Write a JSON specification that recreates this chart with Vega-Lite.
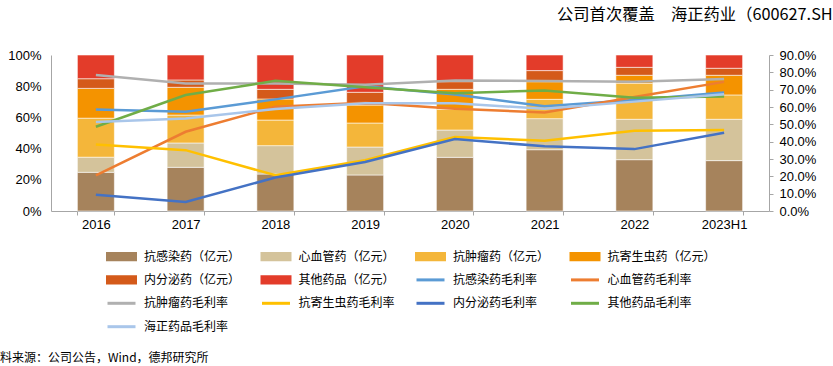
{
  "$schema": "https://vega.github.io/schema/vega-lite/v6.json",
  "width": 718,
  "height": 156,
  "autosize": {"type": "none"},
  "padding": {"left": 51, "top": 55, "right": 64, "bottom": 155},
  "background": "white",
  "title": {"text": "公司首次覆盖　海正药业（600627.SH）", "anchor": "end", "frame": "group", "dx": 80, "offset": 26, "font": "Noto Sans CJK SC", "fontSize": 16.3, "fontWeight": "normal", "color": "#000000"},
  "datasets": {
    "share": [
      {"year": "2016", "series": "抗感染药（亿元）", "seriesNo": 1, "value": 0.248},
      {"year": "2016", "series": "心血管药（亿元）", "seriesNo": 2, "value": 0.097},
      {"year": "2016", "series": "抗肿瘤药（亿元）", "seriesNo": 3, "value": 0.250},
      {"year": "2016", "series": "抗寄生虫药（亿元）", "seriesNo": 4, "value": 0.191},
      {"year": "2016", "series": "内分泌药（亿元）", "seriesNo": 5, "value": 0.062},
      {"year": "2016", "series": "其他药品（亿元）", "seriesNo": 6, "value": 0.152},
      {"year": "2017", "series": "抗感染药（亿元）", "seriesNo": 1, "value": 0.280},
      {"year": "2017", "series": "心血管药（亿元）", "seriesNo": 2, "value": 0.156},
      {"year": "2017", "series": "抗肿瘤药（亿元）", "seriesNo": 3, "value": 0.179},
      {"year": "2017", "series": "抗寄生虫药（亿元）", "seriesNo": 4, "value": 0.178},
      {"year": "2017", "series": "内分泌药（亿元）", "seriesNo": 5, "value": 0.047},
      {"year": "2017", "series": "其他药品（亿元）", "seriesNo": 6, "value": 0.160},
      {"year": "2018", "series": "抗感染药（亿元）", "seriesNo": 1, "value": 0.237},
      {"year": "2018", "series": "心血管药（亿元）", "seriesNo": 2, "value": 0.182},
      {"year": "2018", "series": "抗肿瘤药（亿元）", "seriesNo": 3, "value": 0.164},
      {"year": "2018", "series": "抗寄生虫药（亿元）", "seriesNo": 4, "value": 0.135},
      {"year": "2018", "series": "内分泌药（亿元）", "seriesNo": 5, "value": 0.062},
      {"year": "2018", "series": "其他药品（亿元）", "seriesNo": 6, "value": 0.220},
      {"year": "2019", "series": "抗感染药（亿元）", "seriesNo": 1, "value": 0.231},
      {"year": "2019", "series": "心血管药（亿元）", "seriesNo": 2, "value": 0.179},
      {"year": "2019", "series": "抗肿瘤药（亿元）", "seriesNo": 3, "value": 0.154},
      {"year": "2019", "series": "抗寄生虫药（亿元）", "seriesNo": 4, "value": 0.115},
      {"year": "2019", "series": "内分泌药（亿元）", "seriesNo": 5, "value": 0.082},
      {"year": "2019", "series": "其他药品（亿元）", "seriesNo": 6, "value": 0.239},
      {"year": "2020", "series": "抗感染药（亿元）", "seriesNo": 1, "value": 0.344},
      {"year": "2020", "series": "心血管药（亿元）", "seriesNo": 2, "value": 0.175},
      {"year": "2020", "series": "抗肿瘤药（亿元）", "seriesNo": 3, "value": 0.133},
      {"year": "2020", "series": "抗寄生虫药（亿元）", "seriesNo": 4, "value": 0.128},
      {"year": "2020", "series": "内分泌药（亿元）", "seriesNo": 5, "value": 0.049},
      {"year": "2020", "series": "其他药品（亿元）", "seriesNo": 6, "value": 0.171},
      {"year": "2021", "series": "抗感染药（亿元）", "seriesNo": 1, "value": 0.393},
      {"year": "2021", "series": "心血管药（亿元）", "seriesNo": 2, "value": 0.199},
      {"year": "2021", "series": "抗肿瘤药（亿元）", "seriesNo": 3, "value": 0.124},
      {"year": "2021", "series": "抗寄生虫药（亿元）", "seriesNo": 4, "value": 0.113},
      {"year": "2021", "series": "内分泌药（亿元）", "seriesNo": 5, "value": 0.071},
      {"year": "2021", "series": "其他药品（亿元）", "seriesNo": 6, "value": 0.100},
      {"year": "2022", "series": "抗感染药（亿元）", "seriesNo": 1, "value": 0.329},
      {"year": "2022", "series": "心血管药（亿元）", "seriesNo": 2, "value": 0.259},
      {"year": "2022", "series": "抗肿瘤药（亿元）", "seriesNo": 3, "value": 0.230},
      {"year": "2022", "series": "抗寄生虫药（亿元）", "seriesNo": 4, "value": 0.052},
      {"year": "2022", "series": "内分泌药（亿元）", "seriesNo": 5, "value": 0.051},
      {"year": "2022", "series": "其他药品（亿元）", "seriesNo": 6, "value": 0.079},
      {"year": "2023H1", "series": "抗感染药（亿元）", "seriesNo": 1, "value": 0.323},
      {"year": "2023H1", "series": "心血管药（亿元）", "seriesNo": 2, "value": 0.265},
      {"year": "2023H1", "series": "抗肿瘤药（亿元）", "seriesNo": 3, "value": 0.156},
      {"year": "2023H1", "series": "抗寄生虫药（亿元）", "seriesNo": 4, "value": 0.126},
      {"year": "2023H1", "series": "内分泌药（亿元）", "seriesNo": 5, "value": 0.045},
      {"year": "2023H1", "series": "其他药品（亿元）", "seriesNo": 6, "value": 0.085}
    ],
    "margin": [
      {"year": "2016", "series": "抗感染药毛利率", "value": 0.586},
      {"year": "2017", "series": "抗感染药毛利率", "value": 0.572},
      {"year": "2018", "series": "抗感染药毛利率", "value": 0.644},
      {"year": "2019", "series": "抗感染药毛利率", "value": 0.720},
      {"year": "2020", "series": "抗感染药毛利率", "value": 0.672},
      {"year": "2021", "series": "抗感染药毛利率", "value": 0.605},
      {"year": "2022", "series": "抗感染药毛利率", "value": 0.640},
      {"year": "2023H1", "series": "抗感染药毛利率", "value": 0.683},
      {"year": "2016", "series": "心血管药毛利率", "value": 0.206},
      {"year": "2017", "series": "心血管药毛利率", "value": 0.457},
      {"year": "2018", "series": "心血管药毛利率", "value": 0.601},
      {"year": "2019", "series": "心血管药毛利率", "value": 0.624},
      {"year": "2020", "series": "心血管药毛利率", "value": 0.590},
      {"year": "2021", "series": "心血管药毛利率", "value": 0.568},
      {"year": "2022", "series": "心血管药毛利率", "value": 0.658},
      {"year": "2023H1", "series": "心血管药毛利率", "value": 0.745},
      {"year": "2016", "series": "抗肿瘤药毛利率", "value": 0.784},
      {"year": "2017", "series": "抗肿瘤药毛利率", "value": 0.736},
      {"year": "2018", "series": "抗肿瘤药毛利率", "value": 0.736},
      {"year": "2019", "series": "抗肿瘤药毛利率", "value": 0.728},
      {"year": "2020", "series": "抗肿瘤药毛利率", "value": 0.753},
      {"year": "2021", "series": "抗肿瘤药毛利率", "value": 0.750},
      {"year": "2022", "series": "抗肿瘤药毛利率", "value": 0.746},
      {"year": "2023H1", "series": "抗肿瘤药毛利率", "value": 0.762},
      {"year": "2016", "series": "抗寄生虫药毛利率", "value": 0.383},
      {"year": "2017", "series": "抗寄生虫药毛利率", "value": 0.351},
      {"year": "2018", "series": "抗寄生虫药毛利率", "value": 0.206},
      {"year": "2019", "series": "抗寄生虫药毛利率", "value": 0.293},
      {"year": "2020", "series": "抗寄生虫药毛利率", "value": 0.427},
      {"year": "2021", "series": "抗寄生虫药毛利率", "value": 0.405},
      {"year": "2022", "series": "抗寄生虫药毛利率", "value": 0.463},
      {"year": "2023H1", "series": "抗寄生虫药毛利率", "value": 0.467},
      {"year": "2016", "series": "内分泌药毛利率", "value": 0.094},
      {"year": "2017", "series": "内分泌药毛利率", "value": 0.052},
      {"year": "2018", "series": "内分泌药毛利率", "value": 0.193},
      {"year": "2019", "series": "内分泌药毛利率", "value": 0.283},
      {"year": "2020", "series": "内分泌药毛利率", "value": 0.415},
      {"year": "2021", "series": "内分泌药毛利率", "value": 0.373},
      {"year": "2022", "series": "内分泌药毛利率", "value": 0.357},
      {"year": "2023H1", "series": "内分泌药毛利率", "value": 0.452},
      {"year": "2016", "series": "其他药品毛利率", "value": 0.486},
      {"year": "2017", "series": "其他药品毛利率", "value": 0.669},
      {"year": "2018", "series": "其他药品毛利率", "value": 0.751},
      {"year": "2019", "series": "其他药品毛利率", "value": 0.714},
      {"year": "2020", "series": "其他药品毛利率", "value": 0.680},
      {"year": "2021", "series": "其他药品毛利率", "value": 0.695},
      {"year": "2022", "series": "其他药品毛利率", "value": 0.654},
      {"year": "2023H1", "series": "其他药品毛利率", "value": 0.660},
      {"year": "2016", "series": "海正药品毛利率", "value": 0.514},
      {"year": "2017", "series": "海正药品毛利率", "value": 0.534},
      {"year": "2018", "series": "海正药品毛利率", "value": 0.588},
      {"year": "2019", "series": "海正药品毛利率", "value": 0.621},
      {"year": "2020", "series": "海正药品毛利率", "value": 0.621},
      {"year": "2021", "series": "海正药品毛利率", "value": 0.590},
      {"year": "2022", "series": "海正药品毛利率", "value": 0.631},
      {"year": "2023H1", "series": "海正药品毛利率", "value": 0.673}
    ]
  },
  "layer": [
    {
      "data": {"name": "share"},
      "mark": {"type": "bar", "stroke": "#ffffff", "strokeWidth": 0.8, "strokeOpacity": 0.7},
      "encoding": {
        "x": {"field": "year", "type": "nominal", "sort": null, "scale": {"paddingInner": 0.588, "paddingOuter": 0.294}, "axis": {"tickBand": "extent", "labelAngle": 0, "ticks": true, "tickSize": 4, "labelPadding": 3, "title": null}},
        "y": {"field": "value", "type": "quantitative", "stack": "zero", "scale": {"domain": [0, 1]}, "axis": {"orient": "left", "values": [0, 0.2, 0.4, 0.6, 0.8, 1], "format": ".0%", "ticks": false, "labelPadding": 10, "title": null}},
        "order": {"field": "seriesNo", "type": "quantitative", "sort": "ascending"},
        "color": {
          "field": "series", "type": "nominal",
          "sort": ["抗感染药（亿元）", "心血管药（亿元）", "抗肿瘤药（亿元）", "抗寄生虫药（亿元）", "内分泌药（亿元）", "其他药品（亿元）", "抗感染药毛利率", "心血管药毛利率", "抗肿瘤药毛利率", "抗寄生虫药毛利率", "内分泌药毛利率", "其他药品毛利率", "海正药品毛利率"],
          "scale": {
            "domain": ["抗感染药（亿元）", "心血管药（亿元）", "抗肿瘤药（亿元）", "抗寄生虫药（亿元）", "内分泌药（亿元）", "其他药品（亿元）", "抗感染药毛利率", "心血管药毛利率", "抗肿瘤药毛利率", "抗寄生虫药毛利率", "内分泌药毛利率", "其他药品毛利率", "海正药品毛利率"],
            "range": ["#A6835C", "#D4C39B", "#F4B63A", "#F49300", "#D45A1A", "#E33C2A", "#5B9BD5", "#ED7D31", "#B0B0B0", "#FFC000", "#4472C4", "#70AD47", "#A9C6EA"]
          },
          "legend": {
            "orient": "none", "legendX": -63, "legendY": 193, "direction": "horizontal", "columns": 4, "gridAlign": "all",
            "columnPadding": 2.5, "rowPadding": 4.4, "symbolSize": 196, "padding": 0,
            "labelFont": "Noto Sans CJK SC", "labelFontSize": 12, "labelColor": "#000000", "labelOffset": 21, "labelLimit": 200,
            "title": "资料来源：公司公告，Wind，德邦研究所", "titleOrient": "bottom", "titleAnchor": "start",
            "titleFont": "Noto Sans CJK SC", "titleFontSize": 12, "titleFontWeight": "normal", "titleColor": "#000000", "titlePadding": 20, "titleLimit": 500,
            "encode": {
              "symbols": {"update": {
                "shape": {"signal": "indexof(datum.value, '亿元') >= 0 ? 'M-1,-0.45H3V0.45H-1Z' : 'M-1,0H3'"},
                "fill": {"signal": "indexof(datum.value, '亿元') >= 0 ? scale('color', datum.value) : 'transparent'"},
                "stroke": {"signal": "indexof(datum.value, '亿元') >= 0 ? 'transparent' : scale('color', datum.value)"},
                "strokeWidth": {"value": 3},
                "opacity": {"value": 1}
              }},
              "title": {"update": {"dx": {"value": -118}}}
            }
          }
        }
      }
    },
    {
      "data": {"name": "margin"},
      "mark": {"type": "line", "strokeWidth": 2.5},
      "encoding": {
        "x": {"field": "year", "type": "nominal", "sort": null, "axis": {"tickBand": "extent", "labelAngle": 0, "ticks": true, "tickSize": 4, "labelPadding": 3, "title": null}},
        "y": {"field": "value", "type": "quantitative", "scale": {"domain": [0, 0.9]}, "axis": {"orient": "right", "values": [0, 0.1, 0.2, 0.3, 0.4, 0.5, 0.6, 0.7, 0.8, 0.9], "format": ".1%", "ticks": true, "tickSize": 4, "labelPadding": 6, "title": null}},
        "color": {
          "field": "series", "type": "nominal",
          "sort": ["抗感染药（亿元）", "心血管药（亿元）", "抗肿瘤药（亿元）", "抗寄生虫药（亿元）", "内分泌药（亿元）", "其他药品（亿元）", "抗感染药毛利率", "心血管药毛利率", "抗肿瘤药毛利率", "抗寄生虫药毛利率", "内分泌药毛利率", "其他药品毛利率", "海正药品毛利率"],
          "legend": {
            "orient": "none", "legendX": -63, "legendY": 193, "direction": "horizontal", "columns": 4, "gridAlign": "all",
            "columnPadding": 2.5, "rowPadding": 4.4, "symbolSize": 196, "padding": 0,
            "labelFont": "Noto Sans CJK SC", "labelFontSize": 12, "labelColor": "#000000", "labelOffset": 21, "labelLimit": 200,
            "title": "资料来源：公司公告，Wind，德邦研究所", "titleOrient": "bottom", "titleAnchor": "start",
            "titleFont": "Noto Sans CJK SC", "titleFontSize": 12, "titleFontWeight": "normal", "titleColor": "#000000", "titlePadding": 20, "titleLimit": 500,
            "encode": {
              "symbols": {"update": {
                "shape": {"signal": "indexof(datum.value, '亿元') >= 0 ? 'M-1,-0.45H3V0.45H-1Z' : 'M-1,0H3'"},
                "fill": {"signal": "indexof(datum.value, '亿元') >= 0 ? scale('color', datum.value) : 'transparent'"},
                "stroke": {"signal": "indexof(datum.value, '亿元') >= 0 ? 'transparent' : scale('color', datum.value)"},
                "strokeWidth": {"value": 3},
                "opacity": {"value": 1}
              }},
              "title": {"update": {"dx": {"value": -118}}}
            }
          }
        }
      }
    }
  ],
  "resolve": {"scale": {"y": "independent"}},
  "config": {
    "view": {"stroke": null},
    "font": "Liberation Sans",
    "axis": {"grid": false, "labelFont": "Liberation Sans", "labelFontSize": 13, "labelColor": "#000000", "domainColor": "#A6A6A6", "tickColor": "#A6A6A6", "domainWidth": 1}
  }
}
